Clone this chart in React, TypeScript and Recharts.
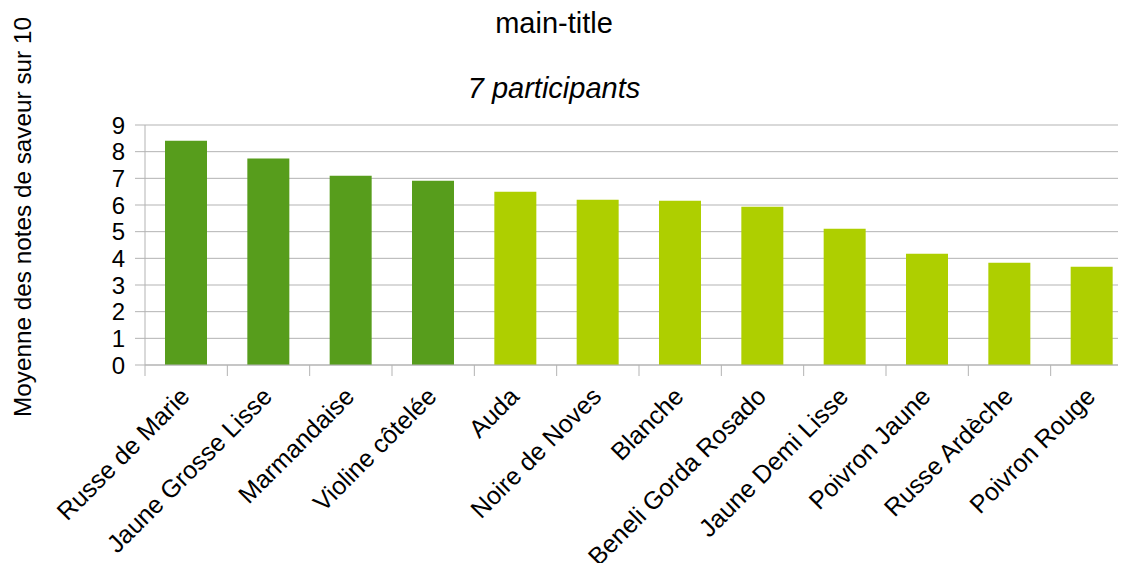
import React from "react";
import { BarChart, Bar, XAxis, YAxis, CartesianGrid, Cell } from "recharts";

const varieties = [
  "Russe de Marie",
  "Jaune Grosse Lisse",
  "Marmandaise",
  "Violine côtelée",
  "Auda",
  "Noire de Noves",
  "Blanche",
  "Beneli Gorda Rosado",
  "Jaune Demi Lisse",
  "Poivron Jaune",
  "Russe Ardèche",
  "Poivron Rouge",
];
const scores = [8.41, 7.74, 7.1, 6.91, 6.5, 6.2, 6.16, 5.93, 5.11, 4.17, 3.83, 3.68];
const yTicks = [0, 1, 2, 3, 4, 5, 6, 7, 8, 9];
const topCount = 4;
const title = "main-title";
const subtitle = "7 participants";
const yLabel = "Moyenne des notes de saveur sur 10";

const data = varieties.map((name, i) => ({ name, score: scores[i] }));

const FONT = "'Liberation Sans', Arial, sans-serif";
const AXIS = "#b3b3b3";
const DARK = "#579d1c";
const LIGHT = "#aecf00";

const XTick = (props: any) => {
  const { x, y, payload, index, width, visibleTicksCount } = props;
  const half = width / visibleTicksCount / 2;
  return (
    <g>
      <line x1={x - half} x2={x - half} y1={y} y2={y + 11} stroke={AXIS} strokeWidth={1} />
      {index === visibleTicksCount - 1 && (
        <line x1={x + half} x2={x + half} y1={y} y2={y + 11} stroke={AXIS} strokeWidth={1} />
      )}
      <text
        transform={`translate(${x + 5},${y + 33}) rotate(-45)`}
        textAnchor="end"
        fontFamily={FONT}
        fontSize={25}
        fill="#000"
      >
        {payload.value}
      </text>
    </g>
  );
};

export default function App() {
  return (
    <div
      style={{
        margin: -8,
        width: 1126,
        height: 571,
        overflow: "hidden",
        position: "relative",
        background: "#fff",
      }}
    >
      <BarChart
        width={1140}
        height={571}
        data={data}
        margin={{ top: 125, right: 7, bottom: 16, left: 0 }}
      >
        <CartesianGrid vertical={false} stroke={AXIS} strokeDasharray="" />
        <XAxis
          dataKey="name"
          interval={0}
          height={190}
          tickLine={false}
          tickSize={0}
          tickMargin={0}
          axisLine={{ stroke: AXIS }}
          tick={<XTick />}
        />
        <YAxis
          width={145}
          domain={[0, 9]}
          ticks={yTicks}
          interval={0}
          tickSize={10}
          tickMargin={10}
          axisLine={{ stroke: AXIS }}
          tickLine={{ stroke: AXIS }}
          tick={{ fontFamily: FONT, fontSize: 24, fill: "#000" }}
        />
        <Bar dataKey="score" barSize={42} isAnimationActive={false}>
          {data.map((d, i) => (
            <Cell key={d.name} fill={i < topCount ? DARK : LIGHT} />
          ))}
        </Bar>
      </BarChart>
      <svg
        width={1126}
        height={571}
        style={{ position: "absolute", left: 0, top: 0, pointerEvents: "none" }}
      >
        <text x={554} y={33} textAnchor="middle" fontFamily={FONT} fontSize={29} fill="#000">
          {title}
        </text>
        <text
          x={554}
          y={98}
          textAnchor="middle"
          fontFamily={FONT}
          fontSize={29}
          fontStyle="italic"
          fill="#000"
        >
          {subtitle}
        </text>
        <text
          transform="translate(31,217) rotate(-90)"
          textAnchor="middle"
          fontFamily={FONT}
          fontSize={24.3}
          fill="#000"
        >
          {yLabel}
        </text>
      </svg>
    </div>
  );
}
